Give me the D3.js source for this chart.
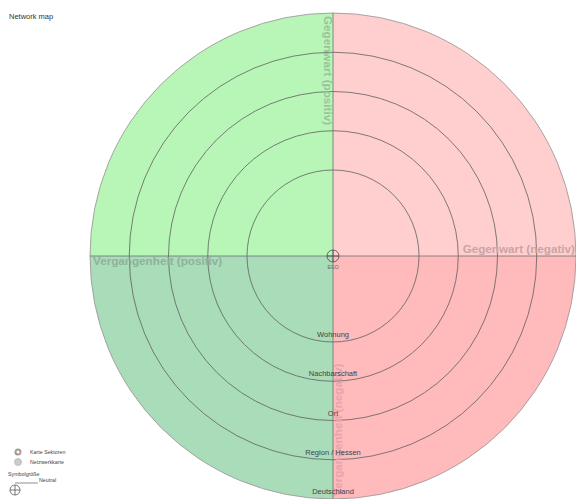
<!DOCTYPE html>
<html>
<head>
<meta charset="utf-8">
<script src="https://cdn.jsdelivr.net/npm/d3@7"></script>
<style>
body { margin: 0; background: #fff; }
svg { display: block; font-family: "Liberation Sans", Arial, sans-serif; }
</style>
</head>
<body>
<svg id="chart" width="576" height="499"></svg>
<script>
// rings from inside to outside
var ringLabels = ['Wohnung', 'Nachbarschaft', 'Ort', 'Region / Hessen', 'Deutschland'];
// sectors (angles in degrees, clockwise from top)
var sectorNames = ['Gegenwart (negativ)', 'Vergangenheit (negativ)', 'Vergangenheit (positiv)', 'Gegenwart (positiv)'];
var sectorStart = [0, 90, 180, 270];
var sectorEnd = [90, 180, 270, 360];
var sectorFill = ['#ffcfcf', '#ffbabb', '#a9dcb9', '#b7f6b7'];
var sectorText = ['#c9a5a6', '#e6a4ad', '#8fb29a', '#9cc29c'];
var legendItems = ['Karte Sektoren', 'Netzwerkkarte'];

var svg = d3.select('#chart');
var cx = 333, cy = 256;

var rScale = d3.scaleLinear().domain([0, ringLabels.length - 1]).range([86, 243]);
var rOuter = rScale(ringLabels.length - 1);
var rad = d => d * Math.PI / 180;

svg.append('text')
	.attr('x', 9).attr('y', 19)
	.attr('font-size', 7.5)
	.attr('fill', '#333')
	.text('Network map');

var g = svg.append('g').attr('transform', 'translate(' + cx + ',' + cy + ')');

//sector fills
var arc = d3.arc().innerRadius(0).outerRadius(rOuter);
g.selectAll('path.sector')
	.data(sectorNames)
	.join('path')
	.attr('class', 'sector')
	.attr('d', (d, i) => arc({startAngle: rad(sectorStart[i]), endAngle: rad(sectorEnd[i])}))
	.attr('fill', (d, i) => sectorFill[i])
	.attr('stroke', 'none');

//rings
g.selectAll('circle.ring')
	.data(ringLabels.slice(0, -1))
	.join('circle')
	.attr('class', 'ring')
	.attr('r', (d, i) => rScale(i))
	.attr('fill', 'none')
	.attr('stroke', '#606060')
	.attr('stroke-width', 0.8);

g.append('circle')
	.attr('r', rOuter)
	.attr('fill', 'none')
	.attr('stroke', '#a09a9a')
	.attr('stroke-width', 0.9);

//sector borders
g.selectAll('line.axis')
	.data(sectorStart)
	.join('line')
	.attr('class', 'axis')
	.attr('x1', 0).attr('y1', 0)
	.attr('x2', d => rOuter * Math.sin(rad(d)))
	.attr('y2', d => -rOuter * Math.cos(rad(d)))
	.attr('stroke', '#707070')
	.attr('stroke-width', 0.8);

//sector labels, along the end edge of each sector
g.selectAll('text.sector-label')
	.data(sectorNames)
	.join('text')
	.attr('class', 'sector-label')
	.each(function(d, i) {
		var deg = sectorEnd[i] % 360;
		var inward = ((deg + 90) % 360 + 540) % 360 - 180;
		var readable = inward >= -90 && inward <= 90;
		var rot = readable ? inward : inward - 180;
		var x = (rOuter - 1) * Math.sin(rad(deg));
		var y = -(rOuter - 1) * Math.cos(rad(deg));
		d3.select(this)
			.attr('transform', 'translate(' + x + ',' + y + ') rotate(' + rot + ')')
			.attr('text-anchor', readable ? 'start' : 'end')
			.attr('dy', readable ? '0.8em' : '-0.3em')
			.attr('dx', readable ? 2 : 0);
	})
	.attr('font-size', 11.7)
	.attr('font-weight', 'bold')
	.attr('fill', (d, i) => sectorText[i])
	.text(d => d);

//ring labels
g.selectAll('text.ring-label')
	.data(ringLabels)
	.join('text')
	.attr('class', 'ring-label')
	.attr('x', 0)
	.attr('y', (d, i) => rScale(i) - 5)
	.attr('text-anchor', 'middle')
	.attr('font-size', 7.5)
	.attr('fill', '#444')
	.text(d => d);

//ego
var ego = g.append('g').attr('class', 'ego');
ego.append('circle').attr('r', 6).attr('fill', 'none').attr('stroke', '#555').attr('stroke-width', 0.9);
ego.append('line').attr('x1', -6).attr('x2', 6).attr('stroke', '#555').attr('stroke-width', 0.9);
ego.append('line').attr('y1', -6).attr('y2', 6).attr('stroke', '#555').attr('stroke-width', 0.9);
ego.append('text').attr('y', 13).attr('text-anchor', 'middle').attr('font-size', 5).attr('fill', '#666').text('EGO');

//legend
var lg = svg.append('g').attr('class', 'legend');
var ly = d3.scalePoint().domain(legendItems).range([452, 462]);
var pie = d3.pie().value(1).sort(null);
var miniArc = d3.arc().innerRadius(1.5).outerRadius(3.5);
var k1 = lg.append('g').attr('transform', 'translate(18,' + ly(legendItems[0]) + ')');
k1.selectAll('path').data(pie(sectorFill)).join('path')
	.attr('d', miniArc)
	.attr('fill', (d, i) => d3.color(sectorText[i]).darker(0.3));
lg.append('circle')
	.attr('cx', 18).attr('cy', ly(legendItems[1]))
	.attr('r', 3.5).attr('fill', '#ccc').attr('stroke', '#aaa').attr('stroke-width', 0.6);
lg.selectAll('text.item')
	.data(legendItems)
	.join('text')
	.attr('class', 'item')
	.attr('x', 30).attr('y', d => ly(d) + 2)
	.attr('font-size', 5.3).attr('fill', '#444')
	.text(d => d);
lg.append('text').attr('x', 8).attr('y', 476).attr('font-size', 5.3).attr('fill', '#444').text('Symbolgröße');
lg.append('line').attr('x1', 15).attr('x2', 38).attr('y1', 483).attr('y2', 483).attr('stroke', '#444').attr('stroke-width', 0.6);
lg.append('text').attr('x', 39).attr('y', 482).attr('font-size', 5.3).attr('fill', '#444').text('Neutral');
var nk = lg.append('g').attr('transform', 'translate(15,490)');
nk.append('circle').attr('r', 5).attr('fill', 'none').attr('stroke', '#555').attr('stroke-width', 0.8);
nk.append('line').attr('x1', -5).attr('x2', 5).attr('stroke', '#555').attr('stroke-width', 0.8);
nk.append('line').attr('y1', -5).attr('y2', 5).attr('stroke', '#555').attr('stroke-width', 0.8);
</script>
</body>
</html>
